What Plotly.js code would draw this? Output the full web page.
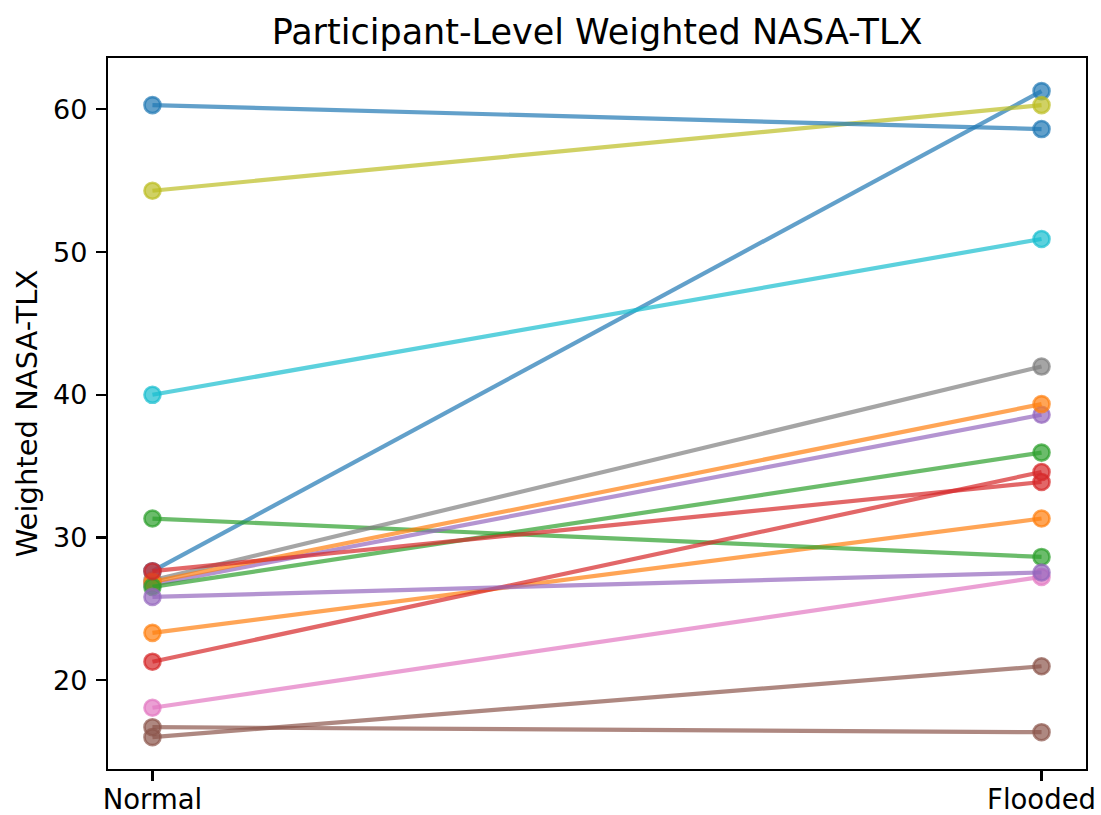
<!DOCTYPE html>
<html>
<head>
<meta charset="utf-8">
<script src="https://cdn.plot.ly/plotly-3.0.1.min.js"></script>
<style>html,body{margin:0;padding:0;background:#fff;}#chart{width:1101px;height:815px;}</style>
</head>
<body>
<div id="chart"></div>
<script>
// Data
const conditions = ['Normal', 'Flooded'];
const participants = ['P1','P2','P3','P4','P5','P6','P7','P8','P9','P10','P11','P12','P13','P14','P15','P16'];
const normalScores  = [27.64, 23.32, 31.33, 21.30, 26.70, 16.71, 18.07, 27.00, 54.30, 40.00, 60.30, 26.89, 26.54, 27.64, 25.84, 16.01];
const floodedScores = [61.28, 31.33, 28.64, 34.59, 38.60, 16.36, 27.24, 41.98, 60.30, 50.92, 58.62, 39.35, 35.95, 33.89, 27.55, 20.98];
const yTicks = [20, 30, 40, 50, 60];

const palette = ['#1f77b4','#ff7f0e','#2ca02c','#d62728','#9467bd','#8c564b','#e377c2','#7f7f7f','#bcbd22','#17becf'];
function rgba(hex, a) {
  const r = parseInt(hex.slice(1,3),16), g = parseInt(hex.slice(3,5),16), b = parseInt(hex.slice(5,7),16);
  return 'rgba(' + r + ',' + g + ',' + b + ',' + a + ')';
}

const traces = participants.map((p, i) => {
  const c = palette[i % palette.length];
  return {
    type: 'scatter',
    mode: 'lines+markers',
    name: p,
    x: conditions,
    y: [normalScores[i], floodedScores[i]],
    line: {color: rgba(c, 0.7), width: 4.2},
    marker: {color: rgba(c, 0.7), size: 16, line: {color: rgba(c, 0.7), width: 2.6}},
    showlegend: false,
    hoverinfo: 'x+y+name'
  };
});

const font = 'DejaVu Sans, Liberation Sans, sans-serif';
const layout = {
  width: 1101,
  height: 815,
  paper_bgcolor: '#fff',
  plot_bgcolor: '#fff',
  margin: {l: 108, r: 15, t: 58, b: 46, pad: 0},
  title: {
    text: 'Participant-Level Weighted NASA-TLX',
    font: {family: font, size: 35, color: '#000'},
    x: 0.5, xref: 'paper', xanchor: 'center',
    y: 1 - 32/815, yref: 'container', yanchor: 'middle'
  },
  xaxis: {
    type: 'category',
    range: [-0.05, 1.05],
    showgrid: false, zeroline: false,
    showline: true, mirror: true, linecolor: '#000', linewidth: 2.2,
    ticks: 'outside', ticklen: 10, tickwidth: 2.2, tickcolor: '#000',
    tickfont: {family: font, size: 27.5, color: '#000'},
    ticklabelstandoff: -5,
    automargin: false
  },
  yaxis: {
    range: [13.78, 63.6],
    tickvals: yTicks,
    ticktext: yTicks.map(String),
    showgrid: false, zeroline: false,
    showline: true, mirror: true, linecolor: '#000', linewidth: 2.2,
    ticks: 'outside', ticklen: 10, tickwidth: 2.2, tickcolor: '#000',
    tickfont: {family: font, size: 27, color: '#000'},
    ticklabelstandoff: 3,
    title: {text: 'Weighted NASA-TLX', font: {family: font, size: 29, color: '#000'}, standoff: 7},
    automargin: false
  }
};

Plotly.newPlot('chart', traces, layout, {displayModeBar: false, staticPlot: true});
</script>
</body>
</html>
